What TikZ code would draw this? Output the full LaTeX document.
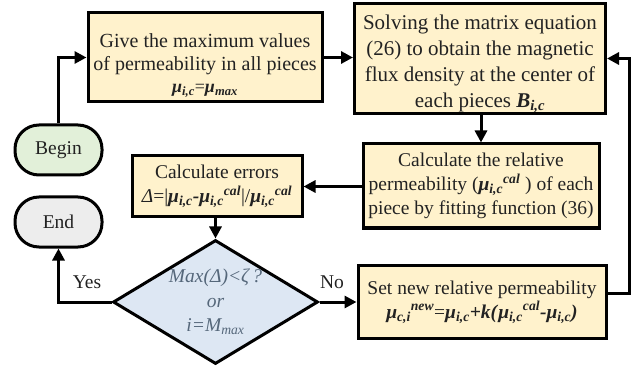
\documentclass[tikz,border=0pt]{standalone}
\usepackage{fontspec}
\setmainfont{Liberation Serif}
\usetikzlibrary{arrows.meta,shapes.geometric}

\definecolor{boxfill}{HTML}{FFF2CC}
\definecolor{beginfill}{HTML}{E2F0D9}
\definecolor{endfill}{HTML}{EDEDED}
\definecolor{decfill}{HTML}{DDE7F3}
\definecolor{dectext}{HTML}{55677A}
\definecolor{ink}{HTML}{222222}

% bold italic symbols
\newcommand\bi[1]{\textbf{\textit{#1}}}
\newcommand\muic{\bi{μ}\textsubscript{\bi{i,c}}}
\newcommand\mucal{\muic\textsuperscript{\bi{cal}}}

\begin{document}
\begin{tikzpicture}[x=1pt,y=-1pt,
  every node/.style={font=\fontsize{19.5}{24}\selectfont, text=ink},
  procbox/.style={draw=black, line width=3pt, fill=boxfill, align=center, inner sep=2pt},
  boxtext/.style={align=center, text=ink},
  terminal/.style={draw=black, line width=3pt, rounded corners=24pt,
    minimum width=87pt, minimum height=50pt, inner sep=0pt},
  decision/.style={draw=black, line width=3pt, fill=decfill, diamond,
    minimum width=205pt, minimum height=124pt, inner sep=0pt},
  dtext/.style={align=center, text=dectext, font=\fontsize{19.5}{24.5}\selectfont\itshape},
  flow/.style={line width=3pt, -{Triangle[length=12pt,width=12pt]}},
  tag/.style={text=ink}]

\useasboundingbox (0,0) rectangle (637,366);

% start and stop terminals
\node[terminal, fill=beginfill] (begin) at (58.5,150) {Begin};
\node[terminal, fill=endfill] (finish) at (58.5,222) {End};

% process steps
\node[procbox, minimum width=234pt, minimum height=89pt,
  label={[boxtext, yshift=-8pt, font=\fontsize{20}{23}\selectfont]center:{Give the maximum values\\ of permeability in all pieces\\[-1pt]
  {\fontsize{18}{20}\selectfont\muic=\bi{μ}\textsubscript{\bi{max}}}}}] (init) at (205,57.5) {};
\node[procbox, minimum width=251pt, minimum height=110pt,
  label={[boxtext, yshift=-5.5pt, font=\fontsize{21}{25.8}\selectfont]center:{Solving the matrix equation\\ (26) to obtain the magnetic\\ flux density at the center of\\ each pieces \bi{B}\textsubscript{\bi{i,c}}}}] (solve) at (480,58.5) {};
\node[procbox, minimum width=236pt, minimum height=84pt] (relperm) at (481,186)
  {Calculate the relative\\ permeability (\mucal\ ) of each\\ piece by fitting function (36)};
\node[procbox, minimum width=170pt, minimum height=61pt] (errors) at (217,186.5)
  {Calculate errors\\ \textit{Δ}=|\muic\bi{-}\mucal|/\mucal};
\node[procbox, minimum width=248pt, minimum height=73pt] (update) at (482,302)
  {Set new relative permeability\\ \bi{μ}\textsubscript{\bi{c,i}}\textsuperscript{\bi{new}}=\muic\bi{+k(}\mucal\bi{-}\muic\bi{)}};

% convergence test
\node[decision, label={[dtext]center:{Max(Δ)<ζ\,?\\ or\\ i=M\textsubscript{max}}}] (test) at (215.5,302) {};

% connectors
\draw[flow] (begin.north) |- (init.west);
\draw[flow] (init.east) -- (init.east -| solve.west);
\draw[flow] (solve.south -| relperm.north) -- (relperm.north);
\draw[flow] (relperm.west |- errors.east) -- (errors.east);
\draw[flow] (errors.south -| test.north) -- (test.north);
\draw[flow] (test.west) -| (finish.south);
\draw[flow] (test.east) -- (update.west);
\coordinate (loop) at (629,293);
\draw[flow] (update.east |- loop) -- (loop) |- (solve.east);

% branch labels
\node[tag] (yes) at (87,282) {Yes};
\node[tag] (no) at (332,282) {No};
\end{tikzpicture}
\end{document}
